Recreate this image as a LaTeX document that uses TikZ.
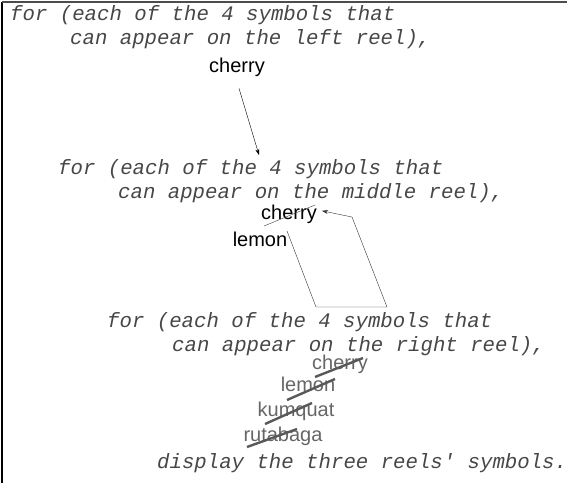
\documentclass[tikz,border=0pt]{standalone}
\usepackage{fontspec}
\usetikzlibrary{arrows.meta}
\newfontfamily\codefont{Liberation Mono}
\newfontfamily\labelfont{Liberation Sans}
\tikzset{
  codeline/.style={anchor=base west, inner sep=0pt, text=black!72,
    font=\codefont\itshape\fontsize{20.7}{24}\selectfont},
  reellabel/.style={anchor=base, inner sep=0pt,
    font=\labelfont\fontsize{20}{22}\selectfont},
  spentlabel/.style={reellabel, text=black!60},
  strike/.style={draw=black!65, line width=2.4pt},
}
\begin{document}
\begin{tikzpicture}[x=1pt, y=-1pt]
  \useasboundingbox (0,0) rectangle (567,483); %
  \draw[line width=1.6pt] (2,483) -- (2,2); %
  \draw[line width=1.6pt, black!70] (2,2) -- (567,2); %
  % outer loop
  \node[codeline] (forL) at (10,20) {for (each of the 4 symbols that}; %
  \node[codeline] (canL) at (70,44) {can appear on the left reel),}; %
  \node[reellabel] (cherryL) at (237,72) {cherry}; %
  \coordinate (arrowL) at (259,155); %
  \draw[-{Stealth[length=6pt, width=4pt]}] ([shift={(2,12)}]cherryL.south) -- (arrowL); %
  % middle loop
  \node[codeline] (forM) at (58,174) {for (each of the 4 symbols that}; %
  \node[codeline] (canM) at (118,198) {can appear on the middle reel),}; %
  \node[reellabel] (cherryM) at (289,219) {cherry}; %
  \node[reellabel] (lemonM) at (260,246) {lemon}; %
  \draw[black!75] ([shift={(-25,7)}]cherryM.base) -- ([shift={(26,-14)}]cherryM.base); %
  \coordinate (loopA) at (316,307); %
  \coordinate (loopB) at (387,307); %
  \coordinate (loopC) at (352,217); %
  \draw[black!80, -{Stealth[length=6pt, width=4pt]}]
    ([shift={(27,-15)}]lemonM.base) -- (loopA) -- (loopB) -- (loopC)
    -- ([shift={(5,-3)}]cherryM.east); %
  % inner loop
  \node[codeline] (forR) at (107,327) {for (each of the 4 symbols that}; %
  \node[codeline] (canR) at (172,351) {can appear on the right reel),}; %
  \node[spentlabel] (cherryR) at (340,369) {cherry}; %
  \node[spentlabel] (lemonR) at (308,391) {lemon}; %
  \node[spentlabel] (kumquatR) at (296,416) {kumquat}; %
  \node[spentlabel] (rutabagaR) at (283,441) {rutabaga}; %
  \draw[strike] ([shift={(-25,8)}]cherryR.base) -- ([shift={(23,-11)}]cherryR.base); %
  \draw[strike] ([shift={(-21,9)}]lemonR.base) -- ([shift={(27,-12)}]lemonR.base); %
  \draw[strike] ([shift={(-31,8)}]kumquatR.base) -- ([shift={(16,-13)}]kumquatR.base); %
  \draw[strike] ([shift={(-36,6)}]rutabagaR.base) -- ([shift={(14,-12)}]rutabagaR.base); %
  % innermost step
  \node[codeline] (showAll) at (157,468) {display the three reels' symbols.}; %
\end{tikzpicture}
\end{document}
